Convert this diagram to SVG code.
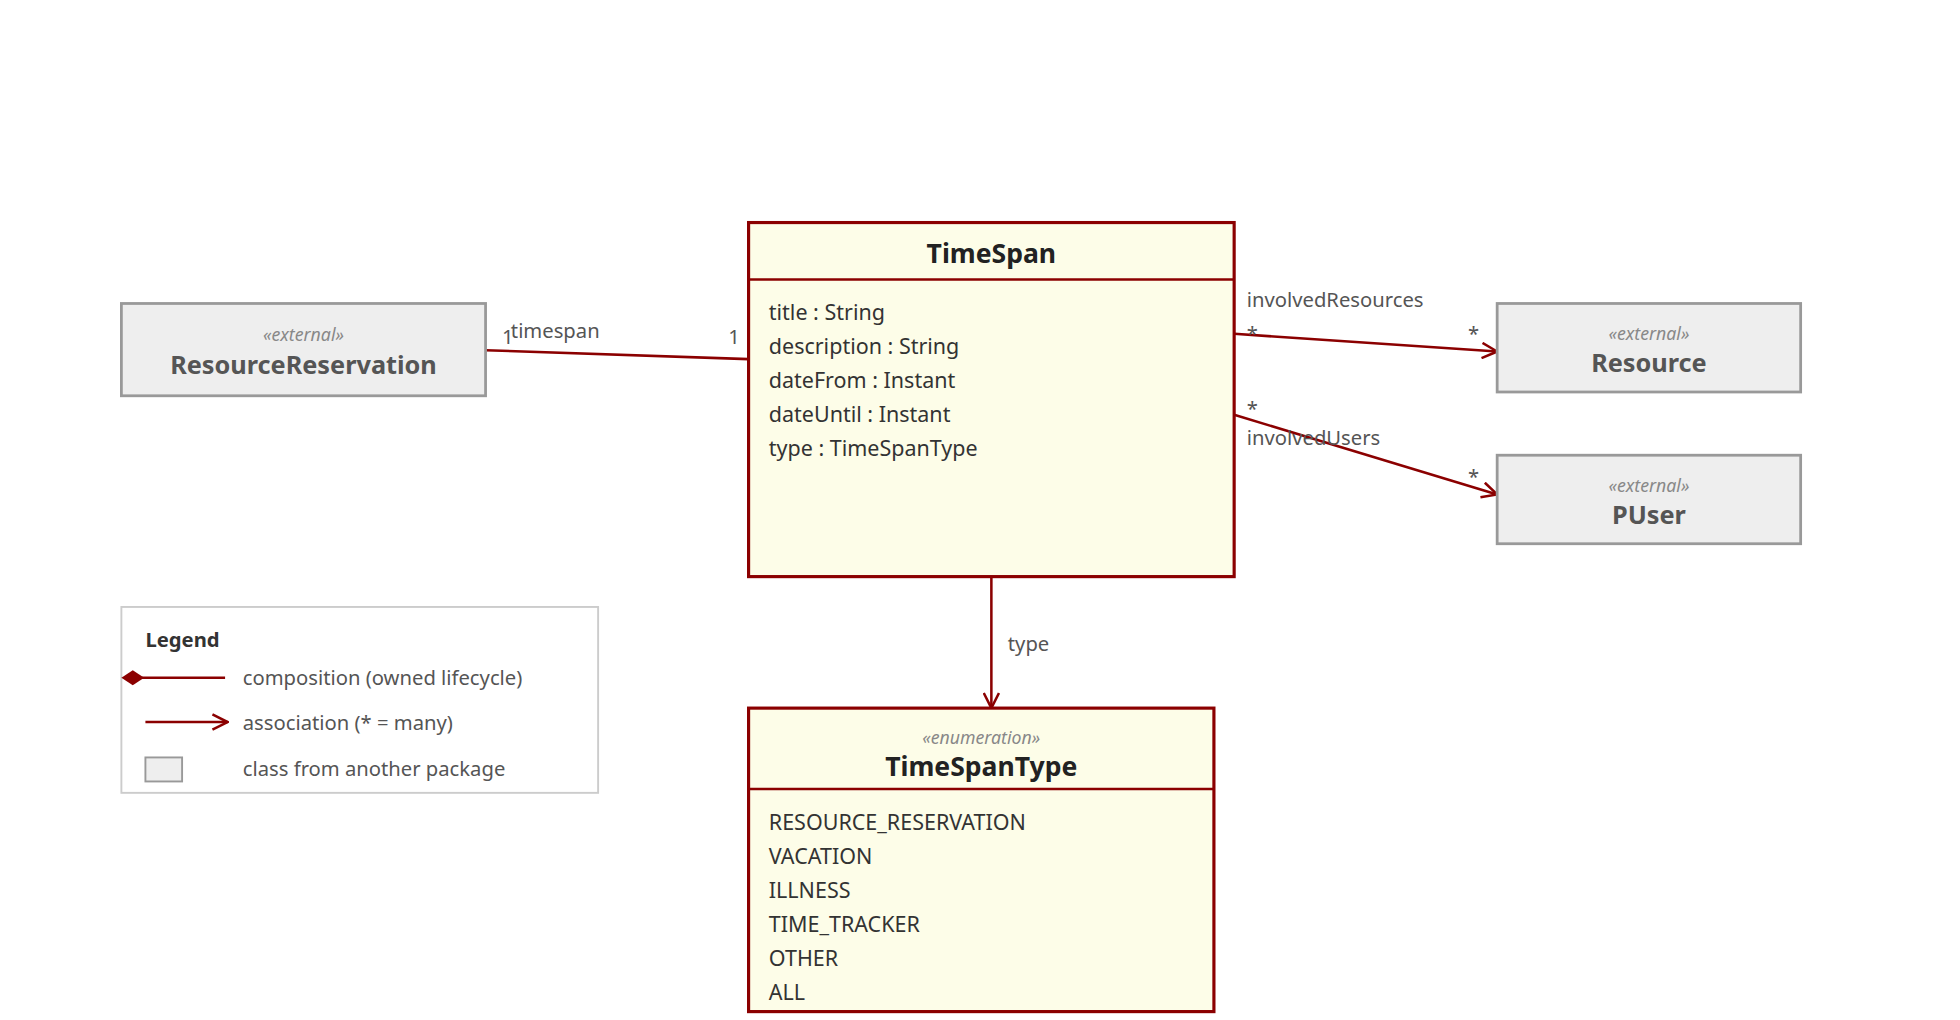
<svg xmlns="http://www.w3.org/2000/svg" width="1960" height="1020" viewBox="0 0 1960 1020">
<defs>
<marker id="arr" viewBox="0 0 14 14" refX="13" refY="7" markerWidth="14" markerHeight="14" markerUnits="userSpaceOnUse" orient="auto"><path d="M1,1 L13,7 L1,13" fill="none" stroke="#8b0000" stroke-width="2"/></marker>
</defs>
<style>
text{font-family:"Noto Sans","Open Sans",sans-serif;}
.cls{fill:#fdfde8;stroke:#8b0000;stroke-width:2.5}
.ext{fill:#eeeeee;stroke:#999;stroke-width:2.2}
.t{font-size:17px;fill:#333}
.h{font-size:21px;font-weight:bold;fill:#222;text-anchor:middle}
.eh{font-size:20px;font-weight:bold;fill:#555;text-anchor:middle}
.st{font-size:14px;font-style:italic;fill:#888;text-anchor:middle}
.lab{font-size:16px;fill:#555}
.ln{stroke:#8b0000;stroke-width:2;fill:none}
</style>
<rect width="1960" height="1020" fill="#fff"/>
<g transform="scale(1.2645)">
<g id="connectors">
<path class="ln" d="M384,277 L592,284"/>
<path class="ln" d="M976,264 L1184,278" marker-end="url(#arr)"/>
<path class="ln" d="M976,328 L1184,391" marker-end="url(#arr)"/>
<path class="ln" d="M784,456 L784,560" marker-end="url(#arr)"/>
<text class="lab" x="397" y="272">1</text>
<text class="lab" x="404" y="267">timespan</text>
<text class="lab" x="576" y="272">1</text>
<text class="lab" x="986" y="243">involvedResources</text>
<text class="lab" x="986" y="270">*</text>
<text class="lab" x="1161" y="270">*</text>
<text class="lab" x="986" y="329">*</text>
<text class="lab" x="986" y="352">involvedUsers</text>
<text class="lab" x="1161" y="383">*</text>
<text class="lab" x="797" y="515">type</text>
</g>
<g id="TimeSpan">
<rect class="cls" x="592" y="176" width="384" height="280"/>
<line class="ln" x1="592" y1="221" x2="976" y2="221" stroke-width="2.5"/>
<text class="h" x="784" y="208">TimeSpan</text>
<text class="t" x="608" y="253">title : String</text>
<text class="t" x="608" y="280">description : String</text>
<text class="t" x="608" y="307">dateFrom : Instant</text>
<text class="t" x="608" y="334">dateUntil : Instant</text>
<text class="t" x="608" y="361">type : TimeSpanType</text>
</g>
<g id="ResourceReservation">
<rect class="ext" x="96" y="240" width="288" height="73"/>
<text class="st" x="240" y="270">«external»</text>
<text class="eh" x="240" y="296">ResourceReservation</text>
</g>
<g id="Resource">
<rect class="ext" x="1184" y="240" width="240" height="70"/>
<text class="st" x="1304" y="269">«external»</text>
<text class="eh" x="1304" y="294">Resource</text>
</g>
<g id="PUser">
<rect class="ext" x="1184" y="360" width="240" height="70"/>
<text class="st" x="1304" y="389">«external»</text>
<text class="eh" x="1304" y="414">PUser</text>
</g>
<g id="TimeSpanType">
<rect class="cls" x="592" y="560" width="368" height="240"/>
<line class="ln" x1="592" y1="624" x2="960" y2="624" stroke-width="2.5"/>
<text class="st" x="776" y="588">«enumeration»</text>
<text class="h" x="776" y="614">TimeSpanType</text>
<text class="t" x="608" y="656">RESOURCE_RESERVATION</text>
<text class="t" x="608" y="683">VACATION</text>
<text class="t" x="608" y="710">ILLNESS</text>
<text class="t" x="608" y="737">TIME_TRACKER</text>
<text class="t" x="608" y="764">OTHER</text>
<text class="t" x="608" y="791">ALL</text>
</g>
<g id="legend">
<rect x="96" y="480" width="377" height="147" fill="#fff" stroke="#ccc" stroke-width="1.5"/>
<text x="115" y="512" font-size="16" font-weight="bold" fill="#333">Legend</text>
<path class="ln" d="M112,536 L178,536"/>
<path d="M96,536 L105,530 L114,536 L105,542 Z" fill="#8b0000"/>
<text class="lab" x="192" y="542">composition (owned lifecycle)</text>
<path class="ln" d="M115,571 L180,571" marker-end="url(#arr)"/>
<text class="lab" x="192" y="577">association (* = many)</text>
<rect x="115" y="599" width="29" height="19" fill="#eee" stroke="#999" stroke-width="1.5"/>
<text class="lab" x="192" y="614">class from another package</text>
</g>
</g>
</svg>
